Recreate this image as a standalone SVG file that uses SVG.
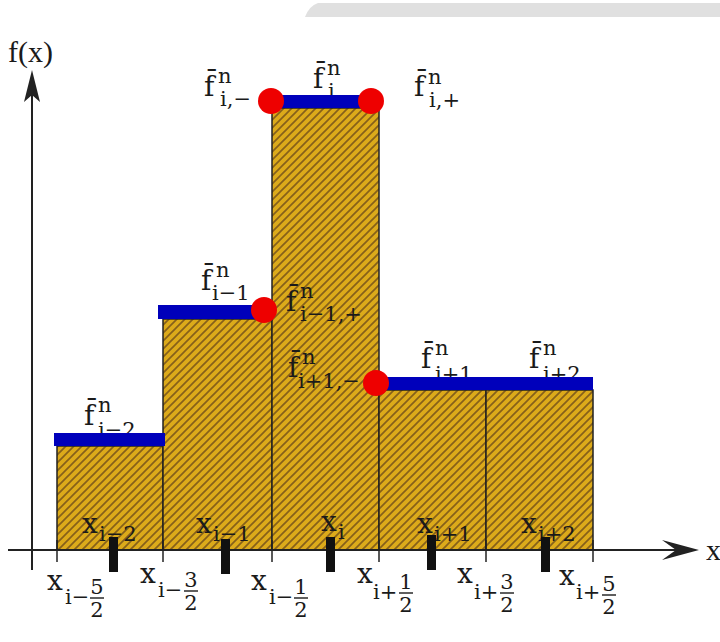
<svg xmlns="http://www.w3.org/2000/svg" width="720" height="642" viewBox="0 0 720 642">
<defs>
<pattern id="hatch" patternUnits="userSpaceOnUse" width="8" height="8">
<rect width="8" height="8" fill="#dcaa1a"/>
<path d="M0,8 L8,0 M-2,2 L2,-2 M6,10 L10,6" stroke="#86601a" stroke-width="1.7"/>
</pattern>
</defs>
<style>
.cell{fill:url(#hatch);stroke:#222;stroke-width:1.5}
.bar{fill:#0000bb}
.pt{fill:#ee0000}
.ax{stroke:#222;stroke-width:2;fill:none}
.tk{stroke:#222;stroke-width:1.5}
.mk{fill:#111}
.m{font-family:"DejaVu Serif","Liberation Serif",serif;fill:#1a1a1a;font-size:28px}
.s{font-size:21px}
.fb{stroke:#1a1a1a;stroke-width:1.4}
.t{font-family:"Liberation Serif","Times New Roman",serif;fill:#1a1a1a;font-size:30px}
</style>
<rect width="720" height="642" fill="#fff"/>
<path d="M318,3 L720,3 L720,17 L305,17 Q309,6 318,3 Z" fill="#e0e0e0"/>

<g id="cells">
<rect id="cell-i-2" class="cell" x="57" y="446" width="106" height="104"/>
<rect id="cell-i-1" class="cell" x="163" y="319" width="109" height="231"/>
<rect id="cell-i" class="cell" x="272" y="108" width="107" height="442"/>
<rect id="cell-i+1" class="cell" x="379" y="390" width="107" height="160"/>
<rect id="cell-i+2" class="cell" x="486" y="390" width="107" height="160"/>
</g>

<g id="connectors">
<line class="ax" x1="32" y1="80" x2="32" y2="570"/>
<path d="M32,70 L40,102 L32,95 L24,102 Z" fill="#222"/>
<line class="ax" x1="8" y1="550" x2="690" y2="550"/>
<path d="M662,540 L699,550 L662,560 L676,550 Z" fill="#222"/>
<line class="tk" x1="57" y1="540" x2="57" y2="562"/>
<line class="tk" x1="163" y1="540" x2="163" y2="562"/>
<line class="tk" x1="272" y1="540" x2="272" y2="562"/>
<line class="tk" x1="379" y1="540" x2="379" y2="562"/>
<line class="tk" x1="486" y1="540" x2="486" y2="562"/>
<line class="tk" x1="593" y1="540" x2="593" y2="562"/>
</g>

<g id="axis-labels">
<text class="t" x="8" y="62">f(x)</text>
<text class="t" x="706" y="560">x</text>
</g>

<g id="value-labels" class="m">
<text id="lbl-fim"><tspan x="204" y="96">f̄</tspan><tspan class="s" x="218" y="83">n</tspan><tspan class="s" x="220" y="106">i,−</tspan></text>
<text id="lbl-fi"><tspan x="313" y="88">f̄</tspan><tspan class="s" x="327" y="75">n</tspan><tspan class="s" x="328" y="98">i</tspan></text>
<text id="lbl-fip"><tspan x="414" y="96">f̄</tspan><tspan class="s" x="428" y="84">n</tspan><tspan class="s" x="429" y="107">i,+</tspan></text>
<text id="lbl-fi-1"><tspan x="201" y="290">f̄</tspan><tspan class="s" x="216" y="277">n</tspan><tspan class="s" x="212" y="300">i−1</tspan></text>
<text id="lbl-fi-1p"><tspan x="286" y="311">f̄</tspan><tspan class="s" x="300" y="298">n</tspan><tspan class="s" x="300" y="321">i−1,+</tspan></text>
<text id="lbl-fi+1m"><tspan x="288" y="377">f̄</tspan><tspan class="s" x="302" y="364">n</tspan><tspan class="s" x="298" y="388">i+1,−</tspan></text>
<text id="lbl-fi+1"><tspan x="421" y="368">f̄</tspan><tspan class="s" x="435" y="355">n</tspan><tspan class="s" x="435" y="381">i+1</tspan></text>
<text id="lbl-fi+2"><tspan x="529" y="368">f̄</tspan><tspan class="s" x="543" y="355">n</tspan><tspan class="s" x="543" y="381">i+2</tspan></text>
<text id="lbl-fi-2"><tspan x="84" y="425">f̄</tspan><tspan class="s" x="98" y="412">n</tspan><tspan class="s" x="98" y="437">i−2</tspan></text>
</g>

<g id="bars">
<rect class="bar" x="54" y="433" width="111" height="13"/>
<rect class="bar" x="158" y="305" width="107" height="14"/>
<rect class="bar" x="272" y="95" width="100" height="13"/>
<rect class="bar" x="380" y="377" width="213" height="13"/>
</g>

<g id="points">
<circle class="pt" cx="271" cy="101" r="13"/>
<circle class="pt" cx="371" cy="101" r="13"/>
<circle class="pt" cx="264" cy="310" r="13"/>
<circle class="pt" cx="376" cy="383" r="13"/>
</g>

<g id="center-labels" class="m">
<text><tspan x="82" y="533">x</tspan><tspan class="s" x="99" y="541">i−2</tspan></text>
<text><tspan x="196" y="533">x</tspan><tspan class="s" x="213" y="541">i−1</tspan></text>
<text><tspan x="321" y="531">x</tspan><tspan class="s" x="338" y="539">i</tspan></text>
<text><tspan x="417" y="533">x</tspan><tspan class="s" x="434" y="541">i+1</tspan></text>
<text><tspan x="521" y="533">x</tspan><tspan class="s" x="538" y="541">i+2</tspan></text>
</g>

<g id="markers">
<rect class="mk" x="109" y="537" width="9" height="35"/>
<rect class="mk" x="221" y="539" width="9" height="35"/>
<rect class="mk" x="326" y="537" width="9" height="35"/>
<rect class="mk" x="427" y="535" width="9" height="35"/>
<rect class="mk" x="541" y="537" width="9" height="35"/>
</g>

<g id="face-labels" class="m">
<text><tspan x="47" y="590">x</tspan><tspan class="s" x="65" y="604">i−</tspan><tspan class="s" x="97" y="594" text-anchor="middle">5</tspan><tspan class="s" x="97" y="617" text-anchor="middle">2</tspan></text>
<line class="fb" x1="90" y1="598" x2="104" y2="598"/>
<text><tspan x="140" y="583">x</tspan><tspan class="s" x="158" y="597">i−</tspan><tspan class="s" x="191" y="587" text-anchor="middle">3</tspan><tspan class="s" x="191" y="610" text-anchor="middle">2</tspan></text>
<line class="fb" x1="184" y1="591" x2="198" y2="591"/>
<text><tspan x="251" y="590">x</tspan><tspan class="s" x="269" y="604">i−</tspan><tspan class="s" x="301" y="594" text-anchor="middle">1</tspan><tspan class="s" x="301" y="617" text-anchor="middle">2</tspan></text>
<line class="fb" x1="294" y1="598" x2="308" y2="598"/>
<text><tspan x="357" y="583">x</tspan><tspan class="s" x="373" y="599">i+</tspan><tspan class="s" x="406" y="589" text-anchor="middle">1</tspan><tspan class="s" x="406" y="612" text-anchor="middle">2</tspan></text>
<line class="fb" x1="399" y1="593" x2="413" y2="593"/>
<text><tspan x="457" y="583">x</tspan><tspan class="s" x="474" y="599">i+</tspan><tspan class="s" x="507" y="589" text-anchor="middle">3</tspan><tspan class="s" x="507" y="612" text-anchor="middle">2</tspan></text>
<line class="fb" x1="500" y1="593" x2="514" y2="593"/>
<text><tspan x="559" y="585">x</tspan><tspan class="s" x="576" y="599">i+</tspan><tspan class="s" x="609" y="591" text-anchor="middle">5</tspan><tspan class="s" x="609" y="614" text-anchor="middle">2</tspan></text>
<line class="fb" x1="602" y1="595" x2="616" y2="595"/>
</g>
</svg>
